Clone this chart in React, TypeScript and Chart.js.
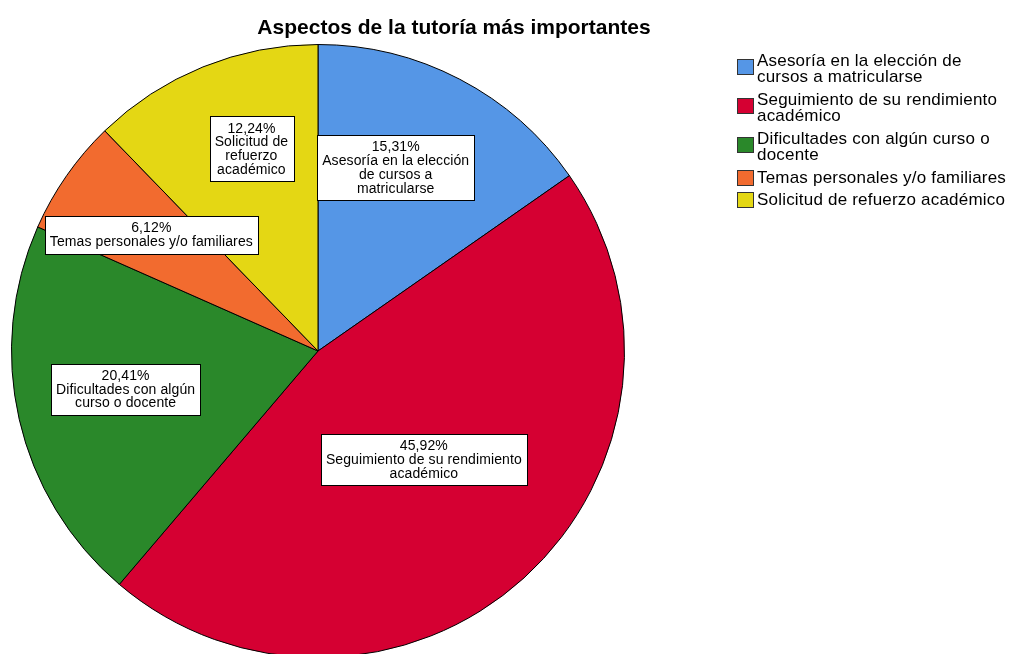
import React, { useEffect, useRef } from "react";
import { Chart, registerables } from "chart.js";

Chart.register(...registerables);

const TITLE = "Aspectos de la tutoría más importantes";
const categories = [
  "Asesoría en la elección de cursos a matricularse",
  "Seguimiento de su rendimiento académico",
  "Dificultades con algún curso o docente",
  "Temas personales y/o familiares",
  "Solicitud de refuerzo académico",
];
const counts = [15, 45, 20, 6, 12];
const colors = ["#5596E6", "#D50032", "#2A882A", "#F26B2F", "#E4D714"];
// legend wrapping (as in the reference)
const legendLines = [
  ["Asesoría en la elección de", "cursos a matricularse"],
  ["Seguimiento de su rendimiento", "académico"],
  ["Dificultades con algún curso o", "docente"],
  ["Temas personales y/o familiares"],
  ["Solicitud de refuerzo académico"],
];
// slice label wrapping (text after the percentage)
const labelLines = [
  ["Asesoría en la elección", "de cursos a", "matricularse"],
  ["Seguimiento de su rendimiento", "académico"],
  ["Dificultades con algún", "curso o docente"],
  ["Temas personales y/o familiares"],
  ["Solicitud de", "refuerzo", "académico"],
];
// label placement style: fraction of radius and angular nudge (deg)
const labelRadius = [0.65, 0.495, 0.64, 0.663, 0.694];
const labelNudge = [-4.6, -2, 1.6, 0, 3.8];

const FONT = "'Liberation Sans', Arial, sans-serif";

const overlayPlugin = {
  id: "overlay",
  afterDatasetsDraw(chart: any) {
    const ctx = chart.ctx;
    const meta = chart.getDatasetMeta(0);
    const data = chart.data.datasets[0].data as number[];
    const total = data.reduce((a, b) => a + b, 0);
    ctx.save();
    ctx.font = `14px ${FONT}`;
    (ctx as any).letterSpacing = "0.1px";
    ctx.textAlign = "center";
    ctx.textBaseline = "middle";
    const lh = 13.8;
    meta.data.forEach((arc: any, i: number) => {
      const p = arc.getProps(["x", "y", "startAngle", "endAngle", "outerRadius"], true);
      const mid = (p.startAngle + p.endAngle) / 2 + (labelNudge[i] * Math.PI) / 180;
      const r = p.outerRadius * labelRadius[i];
      const cx = p.x + Math.cos(mid) * r;
      const cy = p.y + Math.sin(mid) * r;
      const pct = ((data[i] / total) * 100).toFixed(2).replace(".", ",") + "%";
      const lines = [pct, ...labelLines[i]];
      const w = Math.max(...lines.map((l) => ctx.measureText(l).width)) + 10;
      const h = lines.length * lh + 10;
      const bx = Math.round(cx - w / 2) + 0.5;
      const by = Math.round(cy - h / 2) + 0.5;
      ctx.fillStyle = "#ffffff";
      ctx.fillRect(bx, by, Math.round(w), Math.round(h));
      ctx.strokeStyle = "#000000";
      ctx.lineWidth = 1;
      ctx.strokeRect(bx, by, Math.round(w), Math.round(h));
      ctx.fillStyle = "#000000";
      lines.forEach((l, k) => {
        ctx.fillText(l, cx, cy - ((lines.length - 1) * lh) / 2 + k * lh + 0.5);
      });
    });
    ctx.restore();
  },
  afterDraw(chart: any) {
    const ctx = chart.ctx;
    ctx.save();
    // title
    ctx.font = `bold 21px ${FONT}`;
    ctx.fillStyle = "#000000";
    ctx.textAlign = "center";
    ctx.textBaseline = "middle";
    ctx.fillText(TITLE, 454, 28);
    // legend
    ctx.font = `17px ${FONT}`;
    (ctx as any).letterSpacing = "0.2px";
    ctx.textAlign = "left";
    const lh = 16.5;
    let y = 60;
    chart.data.labels.forEach((_: string, i: number) => {
      const lines = legendLines[i];
      const blockCenter = y + ((lines.length - 1) * lh) / 2 - (lines.length - 1) * 2;
      ctx.fillStyle = colors[i];
      ctx.fillRect(737.5, Math.round(blockCenter - 7.5) + 0.5, 16, 15);
      ctx.strokeStyle = "#333333";
      ctx.lineWidth = 1;
      ctx.strokeRect(737.5, Math.round(blockCenter - 7.5) + 0.5, 16, 15);
      ctx.fillStyle = "#000000";
      lines.forEach((l, k) => {
        ctx.fillText(l, 757, y + k * lh + 1);
      });
      y += (lines.length - 1) * lh + 22.5;
    });
    ctx.restore();
  },
};

export default function App() {
  const ref = useRef<HTMLCanvasElement>(null);
  useEffect(() => {
    if (!ref.current) return;
    const chart = new Chart(ref.current, {
      type: "pie",
      data: {
        labels: categories,
        datasets: [
          {
            data: counts,
            backgroundColor: colors,
            borderColor: "#000000",
            borderWidth: 1,
            hoverOffset: 0,
          },
        ],
      },
      options: {
        responsive: false,
        animation: false,
        events: [],
        layout: { padding: { left: 11, top: 44, right: 386, bottom: 22 } },
        plugins: {
          legend: { display: false },
          tooltip: { enabled: false },
          title: { display: false },
        },
      },
      plugins: [overlayPlugin],
    });
    return () => chart.destroy();
  }, []);
  return (
    <div
      style={{
        position: "fixed",
        left: 0,
        top: 0,
        width: 1011,
        height: 654,
        overflow: "hidden",
        background: "#ffffff",
      }}
    >
      <canvas ref={ref} width={1011} height={680} style={{ display: "block", width: 1011, height: 680 }} />
    </div>
  );
}
